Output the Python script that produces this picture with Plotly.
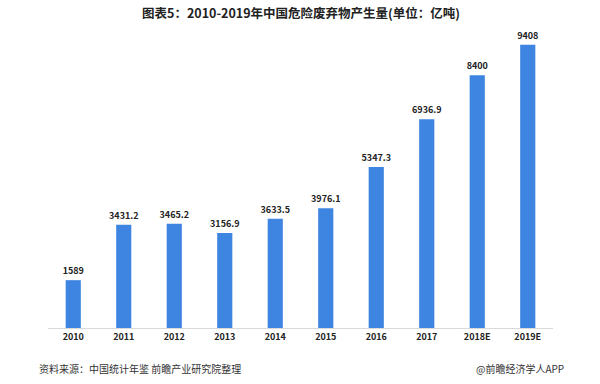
import plotly.graph_objects as go

years = ["2010", "2011", "2012", "2013", "2014", "2015", "2016", "2017", "2018E", "2019E"]
values = [1589, 3431.2, 3465.2, 3156.9, 3633.5, 3976.1, 5347.3, 6936.9, 8400, 9408]
labels = ["1589", "3431.2", "3465.2", "3156.9", "3633.5", "3976.1", "5347.3", "6936.9", "8400", "9408"]

font = "Noto Sans CJK SC, Noto Sans, sans-serif"

L, R, T, B = 48, 47, 30, 56
W, H = 600, 384
ph = H - T - B
pw = W - L - R

fig = go.Figure(go.Bar(
    x=years, y=values, text=["<b>%s</b>" % s for s in labels], textposition="outside",
    textfont=dict(size=9, color="#222222", family=font),
    constraintext="none",
    marker=dict(color="#3d85e0", line=dict(width=0)),
    cliponaxis=False,
))

fig.update_layout(
    width=W, height=H,
    margin=dict(l=L, r=R, t=T, b=B, autoexpand=False),
    plot_bgcolor="white", paper_bgcolor="white",
    bargap=0.70,
    showlegend=False,
    font=dict(family=font),
    xaxis=dict(showline=True, linecolor="#d9d9d9", linewidth=1, ticks="",
               tickvals=years, ticktext=["<b>%s</b>" % y for y in years],
               tickfont=dict(size=9, color="#222222", family=font),
               showgrid=False, automargin=False),
    yaxis=dict(visible=False, range=[0, 9900], automargin=False),
    annotations=[
        dict(text="<b>图表5：2010-2019年中国危险废弃物产生量(单位：亿吨)</b>", x=0.5, y=1, xref="paper", yref="paper",
             xanchor="center", yanchor="middle", yshift=(T - 12), showarrow=False,
             font=dict(size=12.5, color="#222222", family=font)),
        dict(text="资料来源：中国统计年鉴 前瞻产业研究院整理", x=(37 - L) / pw, y=(H - B - 368) / ph,
             xref="paper", yref="paper", xanchor="left", yanchor="middle",
             showarrow=False, font=dict(size=10, color="#333333", family=font)),
        dict(text="@前瞻经济学人APP", x=(566 - L) / pw, y=(H - B - 368) / ph,
             xref="paper", yref="paper", xanchor="right", yanchor="middle",
             showarrow=False, font=dict(size=10, color="#333333", family=font)),
    ],
)

fig.write_html("out.html", config={"displayModeBar": False},
               post_script="document.body.style.margin='0';")
